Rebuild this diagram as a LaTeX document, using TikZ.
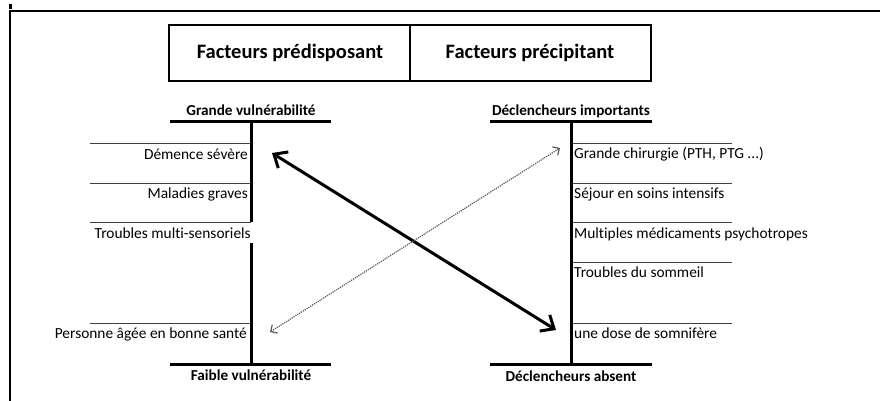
\documentclass[tikz,border=0pt]{standalone}
\usepackage{fontspec}
\setmainfont{Carlito}[Ligatures=CommonOff]
\usetikzlibrary{arrows.meta}
\tikzset{>={Straight Barb[length=11pt,width=19pt]}}
\tikzset{
  label/.style = {inner sep=0pt, font=\fontsize{15.4}{18}\selectfont},
  boldlabel/.style = {inner sep=0pt, font=\fontsize{15.2}{18}\selectfont\bfseries},
  headlabel/.style = {inner sep=0pt, font=\fontsize{20.5}{24}\selectfont\bfseries},
  axis/.style = {line width=3pt},
  rule/.style = {line width=1pt, black!75}
}

\begin{document}
\begin{tikzpicture}[x=1pt,y=-1pt]
  \useasboundingbox (0,0) rectangle (880,401);
  \def\LeftAxis{251}
  \def\RightAxis{571}
  % frame
  \draw[line width=1.2pt] (880,11) -- (10,11) -- (10,401);
  \fill (8.5,4.5) rectangle (11.5,9);
  % header
  \draw[line width=2pt] (169,25) rectangle (651,81);
  \draw[line width=2pt] (410,25) -- (410,81);
  \node[headlabel,anchor=base] (predisp) at (290,59) {Facteurs prédisposant};
  \node[headlabel,anchor=base] (precip) at (530,59) {Facteurs précipitant};
  % left scale
  \foreach \y in {143,183,222,323} {
    \draw[rule] (90,\y) -- (\LeftAxis,\y);
  }
  \draw[axis] (\LeftAxis,122) -- (\LeftAxis,222);
  \draw[axis] (\LeftAxis,243) -- (\LeftAxis,364);
  \draw[axis] (170,122) -- (331,122);
  \draw[axis] (170,364) -- (331,364);
  \node[boldlabel,anchor=base] (grande) at (\LeftAxis,116) {Grande vulnérabilité};
  \node[boldlabel,anchor=base] (faible) at (\LeftAxis,380) {Faible vulnérabilité};
  \node[label,anchor=base east] (demence) at (248,159) {Démence sévère};
  \node[label,anchor=base east] (maladies) at (248,198) {Maladies graves};
  \node[label,anchor=base east] (troubles) at (251,238) {Troubles multi-sensoriels};
  \node[label,anchor=base east] (personne) at (247,338) {Personne âgée en bonne santé};
  % right scale
  \foreach \y in {143,183,222,262,323} {
    \draw[rule] (\RightAxis,\y) -- (732,\y);
  }
  \draw[axis] (\RightAxis,122) -- (\RightAxis,364);
  \draw[axis] (490,122) -- (652,122);
  \draw[axis] (490,364) -- (652,364);
  \node[boldlabel,anchor=base] (importants) at (\RightAxis,116) {Déclencheurs importants};
  \node[boldlabel,anchor=base] (absent) at (\RightAxis,381) {Déclencheurs absent};
  \node[label,anchor=base west] (chirurgie) at (574,158) {Grande chirurgie (PTH, PTG ...)};
  \node[label,anchor=base west] (sejour) at (574,198) {Séjour en soins intensifs};
  \node[label,anchor=base west] (medic) at (574,238) {Multiples médicaments psychotropes};
  \node[label,anchor=base west] (sommeil) at (574,277) {Troubles du sommeil};
  \node[label,anchor=base west] (dose) at (574,338) {une dose de somnifère};
  % arrows
  \coordinate (hiEnd) at (272,153);
  \coordinate (loEnd) at (556,330);
  \coordinate (dotTop) at (560,148);
  \coordinate (dotBot) at (270,332);
  \draw[<->,line width=3pt] (hiEnd) -- (loEnd);
  \draw[{Straight Barb[length=5pt,width=10pt]}-{Straight Barb[length=5pt,width=10pt]},gray!70!black,densely dotted,line width=1.2pt] (dotBot) -- (dotTop);
\end{tikzpicture}
\end{document}
